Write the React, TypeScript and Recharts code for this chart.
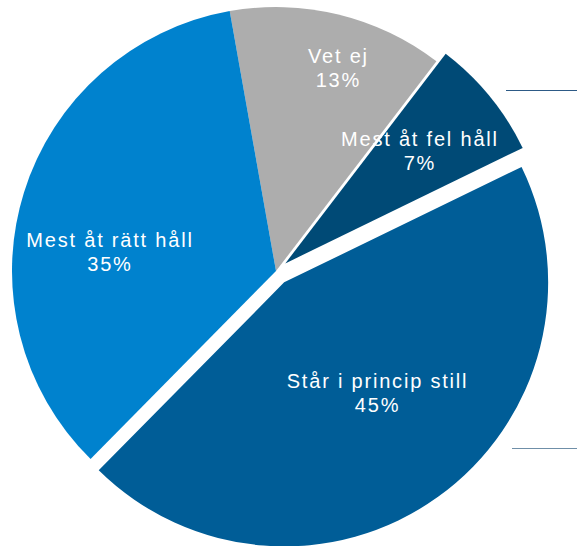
// Opinion poll pie — four answers, two slices pulled out from the centre.
// Each slice is drawn by its own Pie (others transparent) so it can be offset.
import { Cell, Pie, PieChart } from "recharts";

const categories = ["Vet ej", "Mest åt fel håll", "Står i princip still", "Mest åt rätt håll"];
const shares = [13.2, 7.4, 44.6, 34.8];
const pctLabels = ["13%", "7%", "45%", "35%"];

const COLORS = ["#adadad", "#004a76", "#005d97", "#0082ce"];
const EXPLODE = [0, 12, 14, 0]; // px pulled out along the slice's mid angle
const LABEL_R = [212, 175, 144, 168];
const LABEL_SHIFT = [-3.2, 0.9, 4.3, 10.75]; // degrees off the mid angle

const W = 577;
const H = 546;
const CX = 276;
const CY = 271;
const R = 264;
const START = 100.1;
const END = START - 360;

const data = categories.map((name, i) => ({ name, value: shares[i], pct: pctLabels[i] }));

const total = shares.reduce((a, b) => a + b, 0);
let acc = 0;
const mids = shares.map((v) => {
  const m = START - ((acc + v / 2) / total) * 360;
  acc += v;
  return m;
});

const RAD = Math.PI / 180;

function makeLabel(i: number) {
  return (props: any) => {
    if (props.index !== i) return null;
    const a = (props.midAngle + LABEL_SHIFT[i]) * RAD;
    const x = props.cx + LABEL_R[i] * Math.cos(a) + 0.9;
    const y = props.cy - LABEL_R[i] * Math.sin(a);
    return (
      <text
        key={`lbl-${i}`}
        x={x}
        y={y - 5}
        textAnchor="middle"
        fill="#ffffff"
        fontSize={20}
        fontFamily="'Liberation Sans', Arial, sans-serif"
        letterSpacing={1.8}
      >
        <tspan x={x} y={y - 5}>
          {props.payload?.name ?? categories[i]}
        </tspan>
        <tspan x={x} y={y + 19}>
          {pctLabels[i]}
        </tspan>
      </text>
    );
  };
}

export default function App() {
  return (
    <div style={{ position: "absolute", left: 0, top: 0, width: W, height: H, background: "#fff" }}>
      <PieChart width={W} height={H} margin={{ top: 0, right: 0, bottom: 0, left: 0 }}>
        {categories.map((_, i) => {
          const m = mids[i] * RAD;
          return (
            <Pie
              key={i}
              data={data}
              dataKey="value"
              nameKey="name"
              cx={CX + EXPLODE[i] * Math.cos(m)}
              cy={CY - EXPLODE[i] * Math.sin(m)}
              outerRadius={R}
              startAngle={START}
              endAngle={END}
              stroke="none"
              labelLine={false}
              label={makeLabel(i)}
              isAnimationActive={false}
            >
              {data.map((_, j) => (
                <Cell key={j} fill={j === i ? COLORS[j] : "transparent"} stroke="none" />
              ))}
            </Pie>
          );
        })}
      </PieChart>
      <div style={{ position: "absolute", left: 506, top: 90, width: 71, height: 1, background: "#2d5a86" }} />
      <div style={{ position: "absolute", left: 512, top: 448, width: 65, height: 1, background: "#6f8fa8" }} />
    </div>
  );
}
